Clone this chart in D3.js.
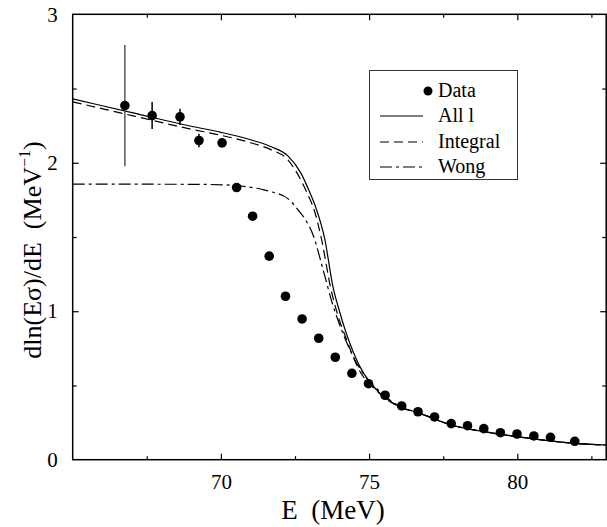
<!DOCTYPE html>
<html>
<head>
<meta charset="utf-8">
<script src="https://cdn.jsdelivr.net/npm/d3@7"></script>
<style>
  html, body { margin: 0; padding: 0; background: #fff; }
  svg { display: block; font-family: "Liberation Serif", "Times New Roman", serif; }
</style>
</head>
<body>
<svg id="chart" width="607" height="527"></svg>
<script>
// ---------- data ----------
const dataE   = [66.76, 67.68, 68.62, 69.26, 70.04, 70.53, 71.07, 71.63, 72.18, 72.74, 73.30, 73.86, 74.42, 74.98,
                 75.54, 76.10, 76.65, 77.21, 77.77, 78.32, 78.87, 79.43, 79.99, 80.56, 81.12, 81.94];
const dataY   = [2.385, 2.318, 2.309, 2.150, 2.134, 1.833, 1.640, 1.371, 1.101, 0.948, 0.818, 0.690, 0.582, 0.512,
                 0.434, 0.362, 0.323, 0.288, 0.243, 0.229, 0.209, 0.182, 0.173, 0.160, 0.151, 0.124];
const dataErr = [0.408, 0.091, 0.055, 0.045, 0.02, 0.03, 0, 0, 0, 0, 0, 0, 0, 0,
                 0, 0, 0, 0, 0, 0, 0, 0, 0, 0, 0, 0];

const allE = [65, 67, 69, 70, 71, 71.7, 72.26, 72.7, 73.0, 73.2, 73.5, 73.78, 74.0, 74.23, 74.69, 75.25, 76.03, 76.65, 77.77, 78.87, 80, 81.94, 83];
const allY = [2.43, 2.338, 2.246, 2.205, 2.155, 2.108, 2.046, 1.93, 1.80, 1.70, 1.49, 1.166, 1.0, 0.852, 0.627, 0.47, 0.357, 0.317, 0.234, 0.189, 0.155, 0.11, 0.099];

const intE = [65, 67, 69, 70, 71, 71.7, 72.26, 72.6, 72.9, 73.15, 73.4, 73.7, 73.95, 74.2, 74.65, 75.25, 76.03, 76.65, 77.77, 78.87, 80, 81.94, 83];
const intY = [2.41, 2.318, 2.226, 2.185, 2.135, 2.087, 2.02, 1.92, 1.80, 1.68, 1.48, 1.16, 0.97, 0.83, 0.61, 0.465, 0.355, 0.317, 0.234, 0.189, 0.155, 0.11, 0.099];

const wongE = [65, 69, 70.3, 70.9, 71.4, 71.7, 72.27, 72.6, 72.89, 73.11, 73.45, 73.76, 74.1, 74.45, 74.8, 75.25, 76.03, 76.65, 77.77, 78.87, 80, 81.94, 83];
const wongY = [1.856, 1.855, 1.85, 1.838, 1.82, 1.805, 1.757, 1.683, 1.604, 1.514, 1.278, 1.054, 0.86, 0.70, 0.58, 0.48, 0.36, 0.317, 0.234, 0.189, 0.155, 0.11, 0.099];

const xMajorTicks = [70, 75, 80];
const xMinorTicks = [67.5, 72.5, 77.5, 82.5];
const yMajorTicks = [0, 1, 2, 3];
const yMinorTicks = [0.5, 1.5, 2.5];
const legendLabels = ["Data", "All l", "Integral", "Wong"];

// ---------- layout ----------
const svg = d3.select("#chart");
const L = 72.7, R = 606.2, T = 14.3, B = 459.7;
const x = d3.scaleLinear().domain([65, 83]).range([L, R]);
const y = d3.scaleLinear().domain([0, 3]).range([B, T]);

const g = svg.append("g");

// curves
const line = d3.line().x(d => x(d[0])).y(d => y(d[1])).curve(d3.curveMonotoneX);
const series = [
  {E: allE, Y: allY, dash: null},
  {E: intE, Y: intY, dash: "9,5"},
  {E: wongE, Y: wongY, dash: "12,4,3,4"}
];
svg.append("clipPath").attr("id", "clip").append("rect")
  .attr("x", L).attr("y", T).attr("width", R - L).attr("height", B - T);
series.forEach(s => {
  g.append("path")
    .datum(s.E.map((e, i) => [e, s.Y[i]]))
    .attr("d", line)
    .attr("fill", "none")
    .attr("stroke", "#000")
    .attr("stroke-width", 1.2)
    .attr("clip-path", "url(#clip)")
    .attr("stroke-dasharray", s.dash);
});

// error bars
const pts = dataE.map((e, i) => ({e, v: dataY[i], err: dataErr[i], i}));
g.selectAll("line.err").data(pts.filter(d => d.err > 0)).enter().append("line")
  .attr("class", "err")
  .attr("x1", d => x(d.e)).attr("x2", d => x(d.e))
  .attr("y1", d => y(d.v - d.err)).attr("y2", d => y(d.v + d.err))
  .attr("stroke", d => d.i === 0 ? "#555" : "#000")
  .attr("stroke-width", 1.5);

// data points
g.selectAll("circle.pt").data(pts).enter().append("circle")
  .attr("class", "pt")
  .attr("cx", d => x(d.e)).attr("cy", d => y(d.v))
  .attr("r", 4.8).attr("fill", "#000");

// ---------- axes ----------
const fs = 21;
function styleAxis(sel) {
  sel.select(".domain").remove();
  sel.selectAll("line").attr("stroke", "#000").attr("stroke-width", 1.2);
  sel.selectAll("text").attr("font-size", fs).attr("fill", "#000")
    .attr("font-family", "Liberation Serif, Times New Roman, serif");
}
// bottom
const bx = g.append("g").attr("transform", `translate(0,${B})`)
  .call(d3.axisBottom(x).tickValues(xMajorTicks).tickSize(-6).tickPadding(14).tickFormat(d3.format("d")));
styleAxis(bx);
const bxm = g.append("g").attr("transform", `translate(0,${B})`)
  .call(d3.axisBottom(x).tickValues(xMinorTicks).tickSize(-3.5).tickFormat(""));
styleAxis(bxm);
// top
const tx = g.append("g").attr("transform", `translate(0,${T})`)
  .call(d3.axisTop(x).tickValues(xMajorTicks).tickSize(-6).tickFormat(""));
styleAxis(tx);
const txm = g.append("g").attr("transform", `translate(0,${T})`)
  .call(d3.axisTop(x).tickValues(xMinorTicks).tickSize(-3.5).tickFormat(""));
styleAxis(txm);
// left
const ly = g.append("g").attr("transform", `translate(${L},0)`)
  .call(d3.axisLeft(y).tickValues(yMajorTicks).tickSize(-6).tickPadding(15).tickFormat(d3.format("d")));
styleAxis(ly);
ly.selectAll(".tick").filter(d => d === 0 || d === 3).select("line").remove();
const lym = g.append("g").attr("transform", `translate(${L},0)`)
  .call(d3.axisLeft(y).tickValues(yMinorTicks).tickSize(-4).tickFormat(""));
styleAxis(lym);
// right
const ry = g.append("g").attr("transform", `translate(${R},0)`)
  .call(d3.axisRight(y).tickValues(yMajorTicks.filter(d => d > 0 && d < 3)).tickSize(-6).tickFormat(""));
styleAxis(ry);
const rym = g.append("g").attr("transform", `translate(${R},0)`)
  .call(d3.axisRight(y).tickValues(yMinorTicks).tickSize(-4).tickFormat(""));
styleAxis(rym);

// frame
g.append("rect").attr("x", L).attr("y", T).attr("width", R - L).attr("height", B - T)
  .attr("fill", "none").attr("stroke", "#000").attr("stroke-width", 1.5);

// axis titles
svg.append("text")
  .attr("x", 333).attr("y", 519)
  .attr("text-anchor", "middle").attr("font-size", 27)
  .text("E\u00a0\u00a0(MeV)");

const yt = svg.append("text")
  .attr("transform", `translate(41,250) rotate(-90)`)
  .attr("text-anchor", "middle").attr("font-size", 26);
yt.append("tspan").text("dln(E\u03c3)/dE\u00a0\u00a0(MeV");
yt.append("tspan").attr("font-size", 16).attr("dy", -11).text("\u22121");
yt.append("tspan").attr("dy", 11).text(")");

// ---------- legend ----------
const lg = svg.append("g");
lg.append("rect").attr("x", 369.5).attr("y", 70.5).attr("width", 148).attr("height", 109)
  .attr("fill", "#fff").attr("stroke", "#333").attr("stroke-width", 1);
const rowY = [97, 122, 148, 173];
const legendDash = [null, null, "9,5", "12,4,3,4"];
legendLabels.forEach((lab, i) => {
  if (i === 0) {
    lg.append("circle").attr("cx", 428).attr("cy", rowY[i] - 6).attr("r", 4.5).attr("fill", "#000");
  } else {
    lg.append("line").attr("x1", 380).attr("x2", 423)
      .attr("y1", rowY[i] - 6).attr("y2", rowY[i] - 6)
      .attr("stroke", "#000").attr("stroke-width", 1.2)
      .attr("stroke-dasharray", legendDash[i]);
  }
  lg.append("text").attr("x", 438).attr("y", rowY[i]).attr("font-size", 20).text(lab);
});
</script>
</body>
</html>
